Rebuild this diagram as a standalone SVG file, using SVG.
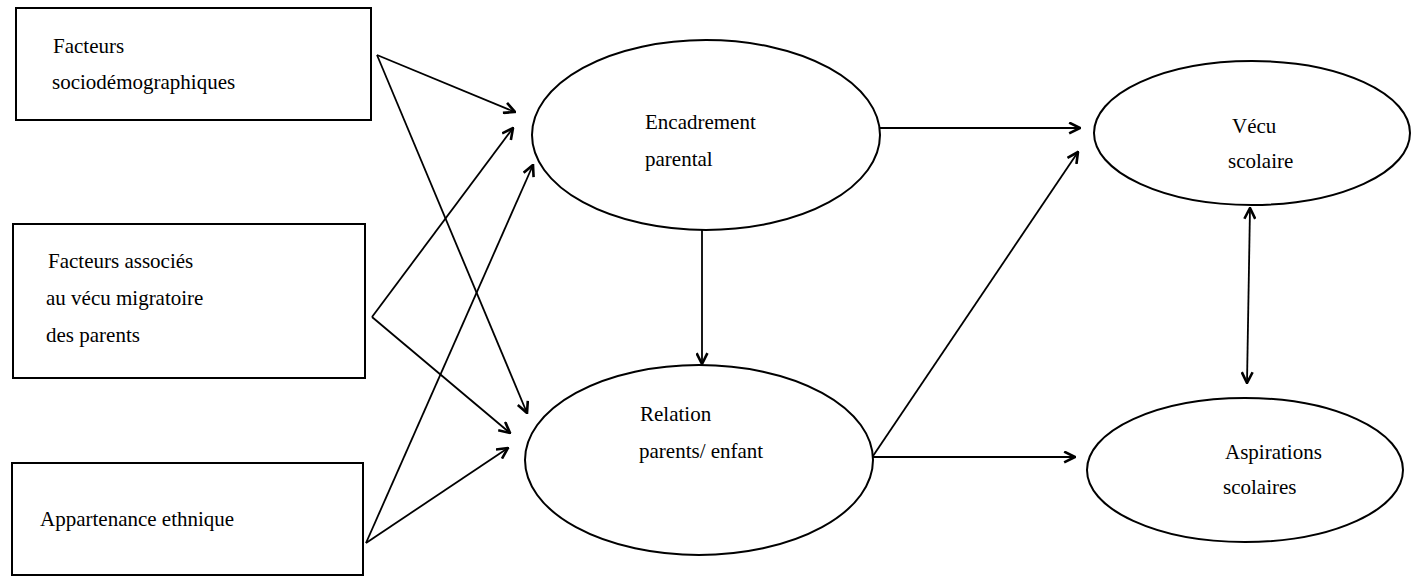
<svg xmlns="http://www.w3.org/2000/svg" width="1421" height="582" viewBox="0 0 1421 582">
<style>
.box{fill:#fff;stroke:#000;stroke-width:2}
.ell{fill:#fff;stroke:#000;stroke-width:2}
.lbl{font-family:"Liberation Serif","Times New Roman",serif;font-size:21px;fill:#000}
.con{stroke:#000;stroke-width:1.8;fill:none;marker-end:url(#ah)}
</style>
<defs>
<marker id="ah" viewBox="0 0 12 12" refX="11" refY="6" markerWidth="13" markerHeight="13" orient="auto-start-reverse" markerUnits="userSpaceOnUse">
<path d="M1,1 L11,6 L1,11" fill="none" stroke="#000" stroke-width="2.4"/>
</marker>
</defs>
<rect width="1421" height="582" fill="#fff"/>
<g id="connectors">
<line class="con" x1="377" y1="55" x2="515" y2="112"/>
<line class="con" x1="377" y1="55" x2="527" y2="413"/>
<line class="con" x1="372" y1="317" x2="513" y2="128"/>
<line class="con" x1="372" y1="317" x2="510" y2="433"/>
<line class="con" x1="366" y1="543" x2="533" y2="165"/>
<line class="con" x1="366" y1="543" x2="508" y2="448"/>
<line class="con" x1="702" y1="230" x2="702" y2="364"/>
<line class="con" x1="880" y1="128" x2="1080" y2="128"/>
<line class="con" x1="873" y1="456" x2="1078" y2="152"/>
<line class="con" x1="873" y1="457" x2="1075" y2="457"/>
<line class="con" style="marker-start:url(#ah)" x1="1250" y1="208" x2="1247" y2="383"/>
</g>
<g id="n-socio">
<rect class="box" x="16" y="8" width="355" height="112"/>
<text class="lbl" x="53" y="53">Facteurs</text>
<text class="lbl" x="52" y="89">sociodémographiques</text>
</g>
<g id="n-migr">
<rect class="box" x="13" y="224" width="352" height="154"/>
<text class="lbl" x="48" y="268">Facteurs associés</text>
<text class="lbl" x="46" y="305">au vécu migratoire</text>
<text class="lbl" x="46" y="342">des parents</text>
</g>
<g id="n-ethn">
<rect class="box" x="12" y="463" width="351" height="112"/>
<text class="lbl" x="40" y="526">Appartenance ethnique</text>
</g>
<g id="n-encadrement">
<ellipse class="ell" cx="706" cy="135" rx="174" ry="95"/>
<text class="lbl" x="645" y="129">Encadrement</text>
<text class="lbl" x="645" y="166">parental</text>
</g>
<g id="n-relation">
<ellipse class="ell" cx="699" cy="460" rx="174" ry="95"/>
<text class="lbl" x="640" y="421">Relation</text>
<text class="lbl" x="639" y="458">parents/ enfant</text>
</g>
<g id="n-vecu">
<ellipse class="ell" cx="1252" cy="133" rx="158" ry="72"/>
<text class="lbl" x="1232" y="133">Vécu</text>
<text class="lbl" x="1228" y="168">scolaire</text>
</g>
<g id="n-aspirations">
<ellipse class="ell" cx="1245" cy="470" rx="158" ry="72"/>
<text class="lbl" x="1225" y="459">Aspirations</text>
<text class="lbl" x="1223" y="494">scolaires</text>
</g>
</svg>
